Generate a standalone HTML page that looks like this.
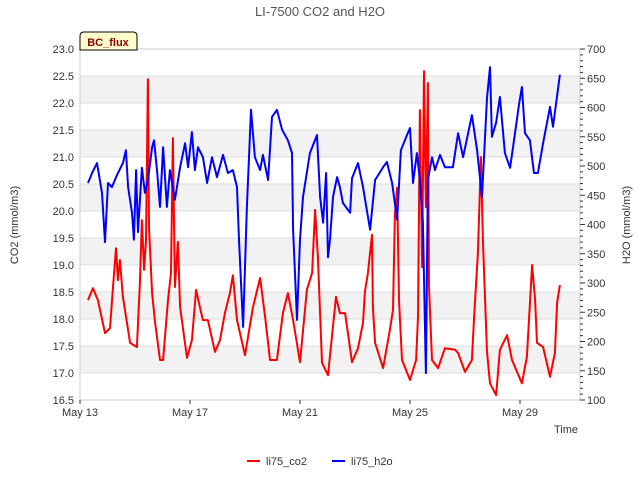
<!DOCTYPE html>
<html><head><meta charset="utf-8"><style>
body{margin:0;background:#fff;font-family:"Liberation Sans",sans-serif}
svg text{font-family:"Liberation Sans",sans-serif}
</style></head><body>
<svg id="chart" width="640" height="480" xmlns="http://www.w3.org/2000/svg">
<text x="320" y="16" text-anchor="middle" font-size="13" fill="#555">LI-7500 CO2 and H2O</text>
<g id="bands"></g><g id="grid"></g>
<rect x="80" y="49" width="500" height="351" fill="none" stroke="#ccc"/>
<g id="series"></g><g id="axes"></g>
<text transform="translate(18,225) rotate(-90)" text-anchor="middle" font-size="11" fill="#333">CO2 (mmol/m3)</text>
<text transform="translate(630,225) rotate(-90)" text-anchor="middle" font-size="11" fill="#333">H2O (mmol/m3)</text>
<text x="578" y="433" text-anchor="end" font-size="11" fill="#333">Time</text>
<g>
<path d="M80,50 L80,36 Q80,32 84,32 L133,32 Q137,32 137,36 L137,50 Z" fill="#ffffcc" stroke="#000"/>
<text x="108" y="46" text-anchor="middle" font-size="11" font-weight="bold" fill="#8b0000">BC_flux</text></g>
<g><line x1="247" y1="461" x2="260" y2="461" stroke="#f00" stroke-width="2"/><text x="266" y="465" font-size="11" fill="#333">li75_co2</text></g>
<g><line x1="332" y1="461" x2="345" y2="461" stroke="#00f" stroke-width="2"/><text x="351" y="465" font-size="11" fill="#333">li75_h2o</text></g>
</svg>
<script>
const xTickLabels=["May 13","May 17","May 21","May 25","May 29"];
const xTickDays=[0,4,8,12,16];
const co2Ticks=[16.5,17.0,17.5,18.0,18.5,19.0,19.5,20.0,20.5,21.0,21.5,22.0,22.5,23.0];
const h2oTicks=[100,150,200,250,300,350,400,450,500,550,600,650,700];
const co2Days=[.29,.47,.65,.91,1.09,1.2,1.31,1.38,1.45,1.56,1.82,2.07,2.18,2.25,2.33,2.4,2.47,2.51,2.62,2.73,2.91,3.02,3.2,3.31,3.38,3.45,3.56,3.64,3.89,4.07,4.22,4.36,4.47,4.65,4.91,5.09,5.27,5.45,5.56,5.71,6.0,6.29,6.55,6.73,6.91,7.16,7.38,7.56,7.75,8.0,8.25,8.44,8.55,8.65,8.8,9.02,9.31,9.45,9.64,9.89,10.11,10.29,10.36,10.47,10.62,10.65,10.73,11.02,11.27,11.38,11.45,11.53,11.6,11.71,12.0,12.22,12.29,12.36,12.44,12.51,12.58,12.65,12.69,12.8,13.02,13.27,13.64,13.75,14.0,14.25,14.33,14.47,14.58,14.65,14.8,14.91,15.13,15.27,15.53,15.71,16.07,16.25,16.44,16.55,16.62,16.84,17.09,17.27,17.35,17.45];
const co2Vals=[18.35,18.57,18.35,17.74,17.83,18.59,19.31,18.72,19.09,18.41,17.56,17.48,18.67,19.83,18.91,19.46,22.44,19.7,18.48,17.93,17.24,17.24,18.35,18.85,21.35,18.59,19.43,18.22,17.28,17.61,18.54,18.22,17.98,17.98,17.39,17.61,18.11,18.48,18.81,17.98,17.33,18.22,18.76,18.04,17.24,17.24,18.11,18.48,17.98,17.2,18.54,18.85,20.02,19.15,17.19,16.96,18.41,18.11,18.11,17.2,17.46,17.93,18.5,18.85,19.56,18.22,17.56,17.09,17.8,18.17,19.93,20.43,18.35,17.24,16.87,17.24,18.04,21.87,18.96,22.59,20.07,22.37,18.59,17.24,17.09,17.46,17.43,17.37,17.02,17.24,18.04,19.22,21.0,19.46,17.39,16.81,16.59,17.43,17.7,17.24,16.81,17.3,19.0,18.35,17.56,17.48,16.93,17.37,18.3,18.63];
const h2oDays=[.29,.44,.62,.8,.91,1.02,1.16,1.35,1.56,1.67,1.75,1.89,1.96,2.04,2.11,2.25,2.36,2.47,2.62,2.69,2.8,2.91,3.02,3.16,3.27,3.45,3.64,3.82,3.93,4.07,4.18,4.29,4.47,4.62,4.8,4.98,5.2,5.38,5.56,5.71,5.78,5.93,6.07,6.22,6.36,6.55,6.65,6.84,6.98,7.16,7.35,7.56,7.71,7.75,7.89,8.0,8.11,8.36,8.62,8.73,8.84,8.95,9.02,9.09,9.2,9.35,9.45,9.56,9.82,9.89,10.11,10.29,10.55,10.73,11.02,11.16,11.35,11.53,11.67,11.89,12.0,12.11,12.25,12.36,12.47,12.58,12.65,12.8,12.91,13.09,13.27,13.56,13.75,13.93,14.25,14.44,14.62,14.8,14.91,14.98,15.13,15.27,15.45,15.64,15.82,15.96,16.07,16.18,16.36,16.51,16.65,16.84,17.09,17.2,17.45];
const h2oVals=[471,488,505,454,370,471,464,485,505,527,464,420,374,493,387,497,454,476,532,544,493,430,532,430,493,442,498,539,498,558,493,532,515,471,515,481,519,488,493,464,374,225,430,596,515,493,519,476,584,596,562,544,522,391,237,374,447,522,553,447,403,488,344,374,447,481,464,437,420,479,505,464,391,476,498,507,471,408,527,553,565,471,522,476,403,146,476,515,493,519,498,498,556,515,587,527,447,616,669,550,574,618,522,497,556,604,635,556,544,488,488,539,601,567,656];

const NS="http://www.w3.org/2000/svg";
const X0=80,X1=580,Y0=49,Y1=400;
const xS=d=>X0+d*27.5;
const yL=v=>Y1-(v-16.5)*(Y1-Y0)/6.5;
const yR=v=>Y1-(v-100)*(Y1-Y0)/600;
function mk(tag,attrs,parent){const e=document.createElementNS(NS,tag);for(const k in attrs)e.setAttribute(k,attrs[k]);parent.appendChild(e);return e;}
const bands=document.getElementById('bands'),grid=document.getElementById('grid'),axes=document.getElementById('axes'),series=document.getElementById('series');
for(let v=17;v<=22;v+=1){const r=mk('rect',{x:X0,y:yL(v+0.5),width:X1-X0,height:yL(v)-yL(v+0.5),fill:'#f2f2f2'},bands);

}
co2Ticks.forEach(v=>{const l=mk('line',{x1:X0,x2:X1,y1:yL(v),y2:yL(v),stroke:'#ddd'},grid);


const t=mk('text',{x:X0-6,y:yL(v)+4,'text-anchor':'end','font-size':11,fill:'#333'},axes);t.textContent=v.toFixed(1);

});
for(let v=100;v<=700;v+=10){const big=v%50===0;mk('line',{x1:X1,x2:X1+(big?5:3),y1:yR(v),y2:yR(v),stroke:'#333'},axes);}
h2oTicks.forEach(v=>{const t=mk('text',{x:X1+7,y:yR(v)+4,'font-size':11,fill:'#333'},axes);t.textContent=v;

});
xTickDays.forEach((d,i)=>{mk('line',{x1:xS(d),x2:xS(d),y1:Y1,y2:Y1+4,stroke:'#333'},axes);
const t=mk('text',{x:xS(d),y:Y1+16,'text-anchor':'middle','font-size':11,fill:'#333'},axes);t.textContent=xTickLabels[i];

});
function line(days,vals,ys,color,name){const d=days.map((x,i)=>(i?'L':'M')+xS(x).toFixed(1)+','+ys(vals[i]).toFixed(1)).join('');
const p=mk('path',{d:d,fill:'none',stroke:color,'stroke-width':2,'stroke-linejoin':'round'},series);

}
line(co2Days,co2Vals,yL,'#f00','co2-line');
line(h2oDays,h2oVals,yR,'#00f','h2o-line');
</script>
</body></html>
